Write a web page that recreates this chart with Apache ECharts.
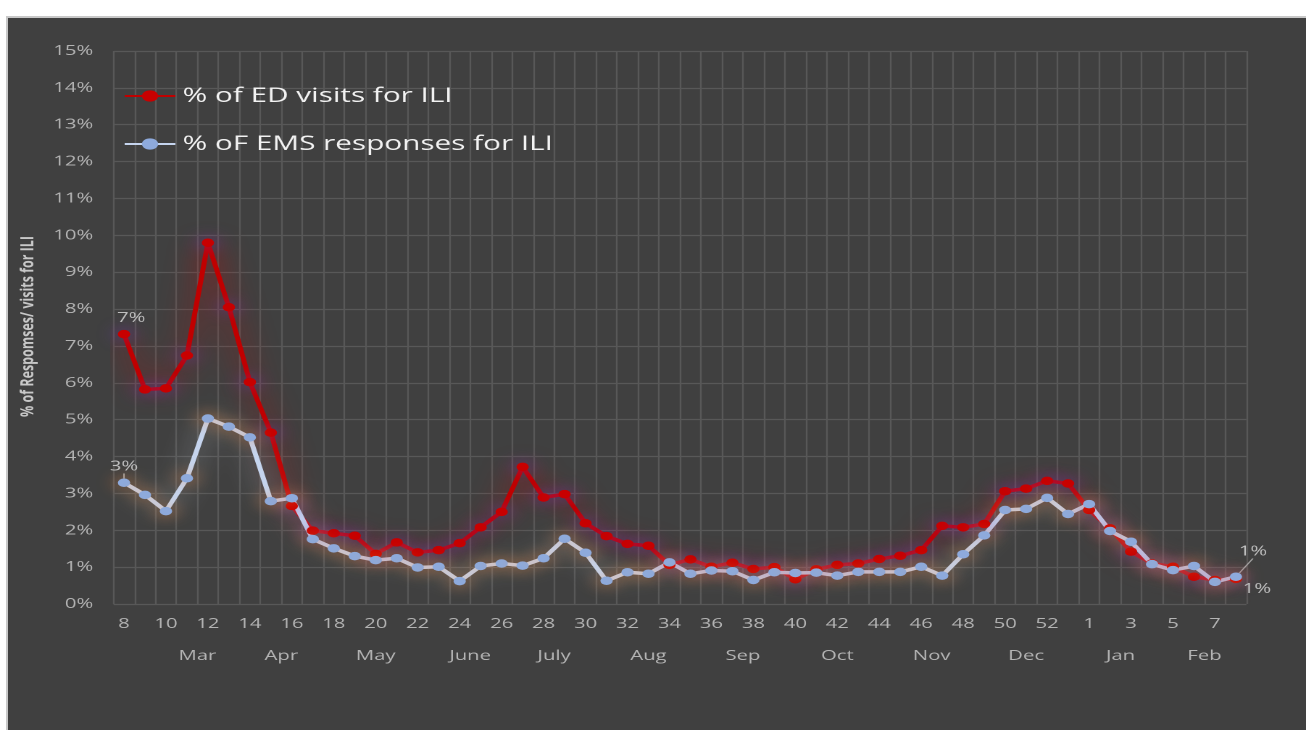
<!DOCTYPE html>
<html>
<head>
<meta charset="utf-8">
<script src="https://cdn.jsdelivr.net/npm/echarts@6/dist/echarts.min.js"></script>
<style>
  html, body { margin: 0; padding: 0; background: #ffffff; width: 1306px; height: 730px; overflow: hidden; }
  #panel { position: absolute; left: 6px; top: 16px; width: 1300px; height: 714px; background: #404040;
           border-left: 2px solid #c8c8c8; border-top: 2px solid #c8c8c8; box-sizing: border-box; }
  #chart { position: absolute; left: 0; top: 0; width: 901px; height: 730px;
           transform: scaleX(1.4495); transform-origin: 0 0; }
</style>
</head>
<body>
<div id="panel"></div>
<div id="chart"></div>
<script>
// ---- data ----
const weekLabels = ['8','9','10','11','12','13','14','15','16','17','18','19','20','21','22','23','24','25','26','27','28','29','30','31','32','33','34','35','36','37','38','39','40','41','42','43','44','45','46','47','48','49','50','51','52','53','1','2','3','4','5','6','7','8'];
const edPct = [7.32,5.82,5.85,6.74,9.80,8.05,6.02,4.65,2.66,1.99,1.92,1.85,1.36,1.67,1.40,1.46,1.65,2.08,2.50,3.72,2.89,2.98,2.19,1.84,1.63,1.58,1.06,1.21,1.01,1.12,0.95,1.00,0.67,0.94,1.06,1.10,1.22,1.31,1.46,2.12,2.08,2.17,3.06,3.13,3.34,3.27,2.55,2.05,1.42,1.10,1.01,0.74,0.65,0.68];
const emsPct = [3.29,2.96,2.52,3.41,5.03,4.81,4.52,2.79,2.87,1.76,1.51,1.30,1.19,1.24,0.99,1.01,0.62,1.03,1.10,1.04,1.24,1.77,1.39,0.63,0.86,0.82,1.13,0.82,0.91,0.89,0.65,0.86,0.84,0.85,0.77,0.87,0.87,0.87,1.01,0.77,1.35,1.86,2.55,2.58,2.88,2.44,2.71,1.98,1.69,1.08,0.92,1.03,0.60,0.74];
const monthNames = ['Mar','Apr','May','June','July','Aug','Sep','Oct','Nov','Dec','Jan','Feb'];
const monthPos = [3.5,7.5,12,16.5,20.5,25,29.5,34,38.5,43,47.5,51.5];
const seriesNames = ['% of ED visits for ILI', '% oF EMS responses for ILI'];
const yTicks = { min: 0, max: 15, step: 1 };

// ---- chart ----
const FONT = "'Open Sans', 'Noto Sans', sans-serif";
const last = weekLabels.length - 1;
const lblStyle = { color: '#bfbfbf', fontSize: 14, fontFamily: FONT };
const pctFmt = p => Math.round(p.value) + '%';

const edData = edPct.map((v, i) => {
  if (i === 0) return { value: v, label: Object.assign({ show: true, position: 'top', offset: [5, 0], formatter: pctFmt }, lblStyle) };
  if (i === last) return { value: v, label: Object.assign({ show: true, position: 'bottom', offset: [14.5, -6], formatter: pctFmt }, lblStyle) };
  return v;
});
const emsData = emsPct.map((v, i) => {
  if (i === 0) return { value: v, label: Object.assign({ show: true, position: 'top', offset: [-7.5, 0], formatter: pctFmt }, lblStyle) };
  if (i === last) return { value: v, label: Object.assign({ show: true, position: 'top', formatter: pctFmt }, lblStyle) };
  return v;
});

const chart = echarts.init(document.getElementById('chart'), null, { renderer: 'canvas', devicePixelRatio: 2 });
chart.setOption({
  backgroundColor: 'transparent',
  animation: false,
  grid: { left: 78.3, top: 51, width: 781.6, height: 553, containLabel: false },
  legend: {
    orient: 'vertical', left: 80, top: 79, itemWidth: 35, itemHeight: 14, itemGap: 24,
    textStyle: { color: '#f2f2f2', fontSize: 20.5, fontFamily: FONT, lineHeight: 24 },
    data: seriesNames
  },
  xAxis: [{
    type: 'category', data: weekLabels, boundaryGap: true,
    axisLine: { show: false }, axisTick: { show: false },
    axisLabel: { interval: 1, color: '#b4b4b4', fontSize: 14, fontFamily: FONT, margin: 13 },
    splitLine: { show: true, interval: 0, lineStyle: { color: '#585858', width: 1.2 } }
  }, {
    type: 'value', min: -0.5, max: last + 0.5, position: 'bottom', gridIndex: 0,
    axisLine: { show: false }, axisTick: { show: false }, splitLine: { show: false },
    axisLabel: {
      customValues: monthPos, color: '#b4b4b4', fontSize: 14, fontFamily: FONT, margin: 45,
      formatter: v => { const k = monthPos.indexOf(v); return k >= 0 ? monthNames[k] : ''; }
    }
  }],
  yAxis: {
    type: 'value', min: yTicks.min, max: yTicks.max, interval: yTicks.step,
    axisLine: { show: false }, axisTick: { show: false },
    axisLabel: { formatter: '{value}%', color: '#b4b4b4', fontSize: 14, fontFamily: FONT, margin: 14 },
    splitLine: { lineStyle: { color: '#585858', width: 1.2 } },
    name: '% of Respomses/ visits for ILI', nameLocation: 'middle', nameGap: 47,
    nameTextStyle: { color: '#c8c8c8', fontSize: 12.5, fontWeight: 'bold',
      fontFamily: "'Liberation Sans Narrow', 'Open Sans', sans-serif", padding: [0, 0, 0, 2] }
  },
  series: [{
    name: seriesNames[0], type: 'line', xAxisIndex: 0, data: edData,
    symbol: 'circle', symbolSize: 8.5,
    lineStyle: { color: '#c00000', width: 3.5, shadowColor: 'rgba(210,0,0,0.85)', shadowBlur: 22 },
    itemStyle: { color: '#c80000', shadowColor: 'rgba(120,60,210,0.95)', shadowBlur: 14 }
  }, {
    name: seriesNames[1], type: 'line', xAxisIndex: 0, data: emsData,
    symbol: 'circle', symbolSize: 8.5,
    lineStyle: { color: '#c5d4ee', width: 3.5, shadowColor: 'rgba(215,222,235,0.65)', shadowBlur: 20 },
    itemStyle: { color: '#8eaadc', shadowColor: 'rgba(240,130,50,1)', shadowBlur: 14 },
    labelLine: { show: true, lineStyle: { color: '#a6a6a6', width: 1 } },
    labelLayout: p => (p.dataIndex === last ? { dx: 11.7, dy: -9 } : {})
  }]
});
</script>
</body>
</html>
